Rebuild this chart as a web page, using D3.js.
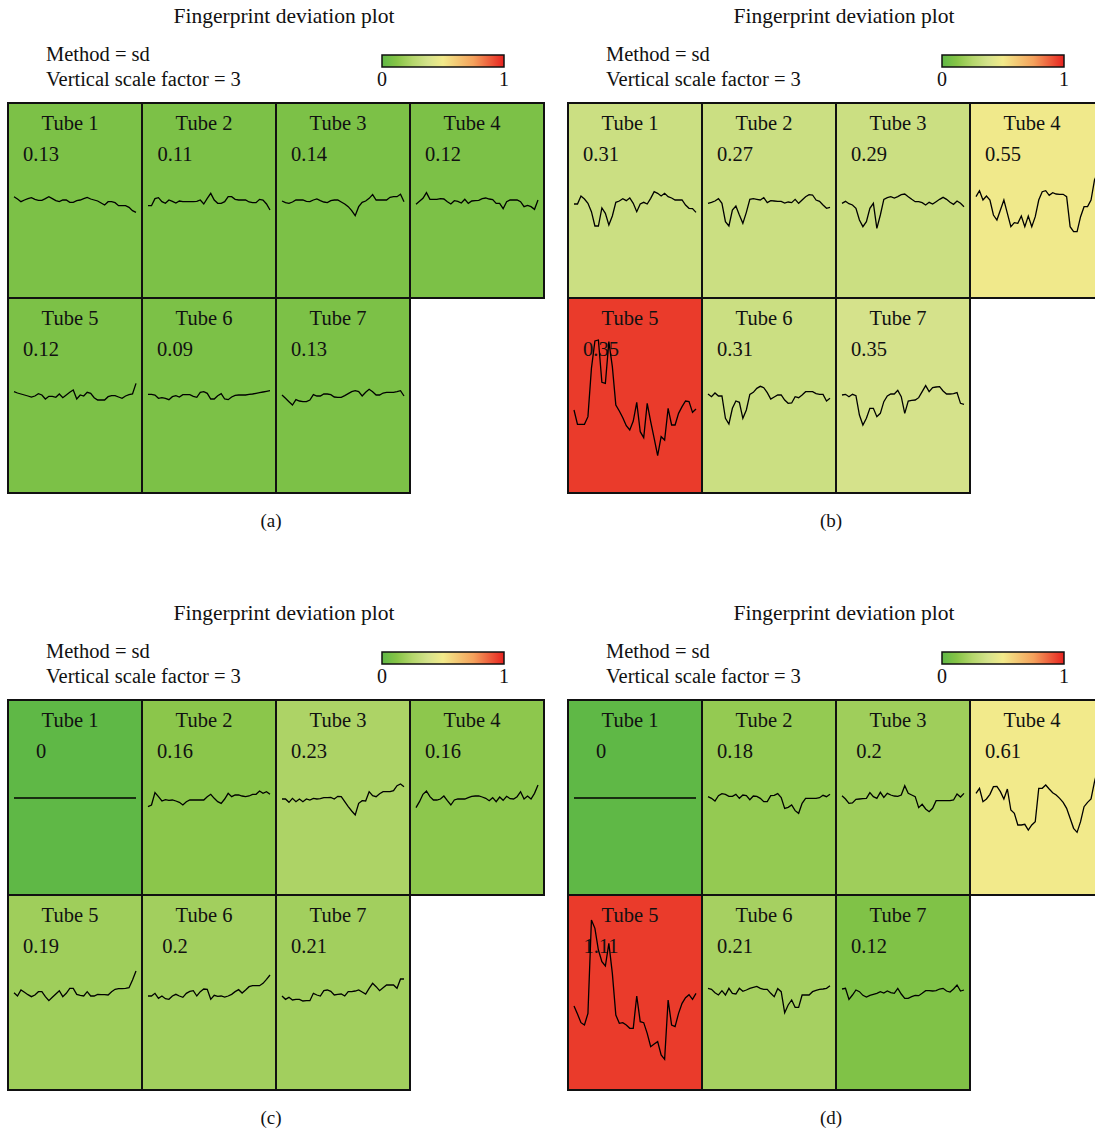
<!DOCTYPE html>
<html>
<head>
<meta charset="utf-8">
<script src="https://cdn.jsdelivr.net/npm/d3@7"></script>
<style>
  html, body { margin: 0; padding: 0; background: #ffffff; }
  svg { display: block; }
  text { font-family: "Liberation Serif", "DejaVu Serif", serif; fill: #111; }
</style>
</head>
<body>
<script>
// ---- data ---------------------------------------------------------------
const tubeNames = ["Tube 1", "Tube 2", "Tube 3", "Tube 4", "Tube 5", "Tube 6", "Tube 7"];
const panelLabels = ["(a)", "(b)", "(c)", "(d)"];
const methodName = "sd";
const verticalScaleFactor = 3;
const colourTicks = [0, 1];

// printed deviation per tube
const sdA = [0.13, 0.11, 0.14, 0.12, 0.12, 0.09, 0.13];
const sdB = [0.31, 0.27, 0.29, 0.55, 0.35, 0.31, 0.35];
const sdC = [0, 0.16, 0.23, 0.16, 0.19, 0.2, 0.21];
const sdD = [0, 0.18, 0.2, 0.61, 1.11, 0.21, 0.12];

// position of each tube on the 0..1 colour scale
const levelA = [0.09, 0.09, 0.09, 0.09, 0.09, 0.09, 0.09];
const levelB = [0.34, 0.34, 0.34, 0.49, 0.95, 0.34, 0.38];
const levelC = [0, 0.135, 0.23, 0.14, 0.19, 0.2, 0.2];
const levelD = [0, 0.16, 0.19, 0.5, 0.95, 0.21, 0.1];

// fingerprint deviation traces (one series per tube)
const traceA = [
  [1.3,0.6,-0.2,0.3,0.7,1.0,0.5,0.2,0.2,0.7,1.3,0.7,0.1,-0.2,0.3,0.3,-0.4,-0.4,0.1,0.3,0.7,1.1,0.6,0.3,0,-0.6,-1.2,-0.2,-0.2,-0.5,-1.4,-1.4,-1.4,-1.9,-2.9,-3.4],
  [-1.4,-1.4,0.7,1.0,-0.2,-0.7,0.3,-0.1,-0.6,0,-0.2,-0.2,-0.2,-0.2,-0.1,0.3,-0.9,0.8,2.3,0.3,-0.7,-0.7,-0.2,1.3,1.3,0.5,0.3,0.3,0.3,-0.3,-0.5,-0.5,0.5,0.3,-0.9,-2.7],
  [0,-0.5,-0.7,-0.3,0.3,0.3,0.3,-0.1,-0.2,0.3,0.6,0.1,-0.3,-0.5,0.1,0.3,0.3,-0.3,-0.9,-1.7,-2.9,-4.4,-1.7,-0.4,0,0.8,1.9,0.3,0.3,0.3,0.3,1.1,1.3,1.3,2.0,-0.2],
  [-1.0,-0.1,0.8,2.5,0.5,0.5,0.5,0.7,0.6,-0.2,-0.9,0.1,-0.1,-0.6,0.5,-0.7,0,0.1,0.2,0.7,0.9,0.6,0.4,-0.7,-0.7,-2.3,-0.2,0.3,0.3,0.3,-0.2,-1.7,-1.3,-1.7,-2.5,0.3],
  [1.3,0.9,0.6,0.3,0,-0.3,0,0.7,0.3,-0.9,-0.1,-0.1,-0.4,0.6,-0.5,0.3,1.1,1.8,-0.9,0.3,0,1.1,0.8,-0.5,-1.2,-1.2,-1.2,-0.2,0.1,0.1,-0.3,-0.7,0,0.4,0.6,3.8],
  [0.5,0.5,0.3,-0.7,-0.5,-0.7,-1.1,-0.2,0.1,-0.3,0.4,0.4,0.4,-0.1,-0.4,1.1,1.3,0.8,-0.9,-0.9,0.1,0.7,-0.9,-1.1,-0.3,0.2,0.3,0.3,0.3,0.5,0.6,0.8,1.0,1.2,1.4,1.6],
  [0.3,-0.7,-1.7,-2.7,-1.1,-1.5,-1.7,-1.7,-1.2,0.4,0,0,0.6,0.6,0.4,-0.3,-0.4,-0.4,0.1,0.7,1.3,1.6,1.3,0,1.1,2.0,1.3,0.3,0.3,0.9,1.1,1.1,1.1,1.3,1.6,0]
];
const traceB = [
  [-0.9,-0.9,1.5,0.6,-0.7,-3.2,-7.5,-7.5,-2.1,-3.7,-7.2,-4.5,-0.4,0,0.7,0.1,0.9,-0.7,-3.2,-0.9,-0.4,-0.9,0.8,2.8,2.3,1.5,2.3,1.3,0.9,0.3,0.3,0.3,-1.2,-2.2,-2.3,-3.4],
  [-0.7,-0.4,0,0.7,-0.7,-6.2,-7.5,-2.7,-1.5,-4.2,-6.7,-3.4,0.5,0.7,0.5,0.3,1.0,-0.5,0.1,0,-0.1,-0.1,-0.6,-0.3,-0.5,0.5,-0.7,0.3,1.3,1.9,1.8,0.3,-0.1,-1.2,-2.2,-1.9],
  [-0.7,-0.1,-0.8,-1.2,-2.2,-5.7,-7.7,-6.2,-2.2,-0.7,-8.2,-4.2,0.5,1.0,1.3,0.9,1.3,1.9,2.1,1.3,0.5,-0.2,-0.2,-0.5,-1.2,-0.4,-0.9,-0.2,0.5,1.1,0.5,-0.4,-1.0,0,-0.7,-1.7],
  [1.3,3.1,0.3,1.5,0.3,-4.2,-5.7,-2.7,0.3,-3.7,-7.7,-6.5,-6.7,-4.5,-7.7,-4.5,-7.7,-4.7,0.3,2.8,3.1,1.7,2.5,2.1,2.0,2.0,1.3,-7.7,-9.2,-9.2,-4.7,-1.7,-1.7,0.3,6.3,8.8],
  [-4.2,-8.5,-8.5,-8.5,-6.2,8.3,16.5,16.8,4.1,3.8,16.3,8.8,-2.7,-4.5,-6.5,-8.9,-10.2,-7.5,-1.9,-10.7,-12.5,-2.2,-7.7,-12.7,-17.9,-12.2,-13.2,-3.7,-8.7,-8.7,-5.2,-3.2,-1.5,-1.7,-4.9,-3.9],
  [0.6,-0.2,0.9,0,0,-6.7,-8.4,-3.7,-1.5,-1.9,-6.7,-4.2,0.5,1.1,2.3,2.9,2.5,1.0,-0.9,-0.3,0.3,0.3,-1.2,-2.2,-2.1,-0.2,-0.5,0.3,1.3,1.3,1.3,0.7,0.5,0.5,-1.5,-0.7],
  [0.3,0.5,-0.2,0.5,0.1,-5.7,-8.7,-6.7,-3.7,-3.7,-6.2,-5.2,-1.7,0,0.6,0.6,1.7,-0.2,-5.2,-1.5,-1.3,-1.2,-0.5,1.3,3.1,1.3,2.5,2.7,2.8,1.5,0.6,0.6,0.7,1.0,-2.2,-2.5]
];
const traceC = [
  [0,0,0,0,0,0,0,0,0,0,0,0,0,0,0,0,0,0,0,0,0,0,0,0,0,0,0,0,0,0,0,0,0,0,0,0],
  [-2.6,-2.1,1.6,0.4,-0.9,-0.5,-0.7,-0.6,-0.9,-1.3,-2.1,-1.1,-0.6,-0.6,-0.6,-0.6,-0.6,0.4,1.1,-0.1,-1.1,-1.6,-0.3,1.4,0.4,0.9,0.9,0.6,0.4,0.6,1.1,1.1,2.1,1.4,1.9,1.1],
  [-0.3,-0.3,-1.3,-0.1,-1.1,-0.3,-1.1,-0.3,-0.6,-0.1,-0.3,-0.2,0.1,0.1,0.2,-0.3,0.5,0.4,-1.1,-2.6,-3.9,-5.1,-1.6,-0.8,-0.9,1.9,0.7,0.4,1.3,1.9,1.9,1.9,2.2,3.7,4.2,3.4],
  [-2.9,-1.1,1.1,2.1,0.4,-0.6,-0.6,-0.3,0.6,-0.8,-2.1,-0.6,-0.3,-0.3,-0.3,0.1,0.5,0.6,0.6,0.3,-0.1,-0.8,0.1,-1.1,0.3,-0.7,0.5,-0.2,-0.3,0.4,1.9,-0.3,0.6,-0.3,1.4,3.9],
  [0.1,-0.9,0.9,0.2,-0.5,-1.1,-0.6,0.4,0.4,-1.1,-2.3,-1.3,-0.3,0.7,-1.1,-0.1,1.4,1.4,-0.4,-0.7,-0.9,0.4,-0.9,-0.9,-0.4,-0.5,-0.5,-0.6,0.4,1.1,1.3,1.3,1.4,1.6,3.9,6.6],
  [-0.9,-0.9,-0.1,-1.6,-0.9,-1.7,-1.9,-0.9,-0.4,-0.9,-1.3,-0.1,0.5,0.7,-0.9,0.4,1.2,1.1,-1.9,-0.7,-1.0,-0.9,-1.2,-0.9,-0.4,0.4,1.0,0,0.9,1.9,2.2,2.2,2.2,2.9,4.1,5.4],
  [-0.9,-1.9,-1.3,-2.1,-1.9,-1.9,-2.4,-2.3,-2.3,-0.1,-0.6,-0.9,0.7,0.9,0.5,-0.6,-0.4,-0.3,-0.9,0.4,0.4,0.6,0.9,0.3,-0.3,1.4,2.9,1.9,0.7,1.6,2.4,2.4,2.4,1.4,4.2,4.2]
];
const traceD = [
  [0,0,0,0,0,0,0,0,0,0,0,0,0,0,0,0,0,0,0,0,0,0,0,0,0,0,0,0,0,0,0,0,0,0,0,0],
  [0.4,-0.1,-0.9,0.7,1.3,1.1,0.5,0.5,1.1,-0.1,0.9,0.7,-0.5,0.6,0.5,-0.1,-1.1,-1.1,0.7,0.8,1.3,0.1,-3.1,-2.8,-2.1,-3.8,-4.6,-1.6,-0.1,-0.1,-0.1,-0.1,0.1,0.8,0.4,1.1],
  [0.7,-0.3,-1.6,-1.5,-0.4,-0.3,-0.2,-0.1,1.6,0.4,-0.1,1.7,0.2,1.4,0.9,0.6,0.5,0.9,3.7,1.4,0.9,0.4,-2.9,-1.9,-3.3,-4.1,-3.1,-0.8,-0.8,-0.8,-0.8,-0.8,-0.6,1.2,0.3,1.4],
  [1.4,2.9,-1.1,-0.3,1.1,3.4,3.5,1.9,-0.3,2.7,-3.6,-4.6,-8.1,-8.1,-7.9,-9.6,-8.1,-7.1,2.9,2.9,3.9,2.7,1.6,0.9,-0.1,-1.3,-3.1,-6.1,-9.1,-10.3,-7.1,-2.6,-1.3,-0.3,4.9,8.9],
  [-3.9,-6.3,-8.9,-9.6,-6.1,21.9,19.4,12.9,9.4,8.1,14.9,5.9,-6.6,-9.1,-8.9,-9.6,-10.6,-10.6,-0.9,-8.6,-8.9,-12.1,-16.1,-15.3,-14.6,-18.6,-19.9,-2.1,-9.6,-10.1,-6.1,-3.1,-1.4,-0.5,-1.9,-0.1],
  [1.4,1.1,0.1,-0.6,0.7,-0.6,1.4,-0.1,-0.3,1.4,0.5,0.9,1.4,1.7,2.0,1.4,1.1,1.1,-0.1,-1.1,1.3,0.4,-5.9,-3.6,-2.1,-4.3,-4.3,-0.6,-0.6,-0.6,0.4,0.8,1.1,1.2,1.4,2.2],
  [1.2,1.4,-1.9,-0.6,0.9,0.4,-0.7,-1.2,-0.7,-0.4,-0.1,0.4,0,0.6,0.1,-0.1,1.4,-0.3,-1.6,-1.6,-1.1,-0.7,-0.8,-0.1,0.7,0.7,0.6,0.7,1.2,1.4,0.6,0.3,1.2,2.4,0.6,0.9]
];

const panels = [
  { label: panelLabels[0], sd: sdA, level: levelA, trace: traceA, left: 8,   top: 103 },
  { label: panelLabels[1], sd: sdB, level: levelB, trace: traceB, left: 568, top: 103 },
  { label: panelLabels[2], sd: sdC, level: levelC, trace: traceC, left: 8,   top: 700 },
  { label: panelLabels[3], sd: sdD, level: levelD, trace: traceD, left: 568, top: 700 }
];

// ---- layout & scales ------------------------------------------------------
const W = 1095, H = 1129;
const cellW = 134, cellH = 195;
const nCols = 4;

const colourStops = [
  [0.0,   "#5fb846"],
  [0.12,  "#86c447"],
  [0.25,  "#b4d66c"],
  [0.375, "#d4e28b"],
  [0.5,   "#f2ea8b"],
  [0.75,  "#f4a15c"],
  [1.0,   "#e8221f"]
];
const colour = d3.scaleLinear()
  .domain(colourStops.map(d => d[0]))
  .range(colourStops.map(d => d[1]))
  .interpolate(d3.interpolateRgb)
  .clamp(true);

// deviation -> vertical offset from the trace baseline
const devY = d3.scaleLinear().domain([-30, 30]).range([100, -100]);

const svg = d3.select("body").append("svg")
  .attr("width", W).attr("height", H)
  .attr("viewBox", `0 0 ${W} ${H}`);

const defs = svg.append("defs");
const grad = defs.append("linearGradient").attr("id", "devGradient")
  .attr("x1", "0%").attr("x2", "100%").attr("y1", "0%").attr("y2", "0%");
grad.selectAll("stop").data(colourStops).join("stop")
  .attr("offset", d => (d[0] * 100) + "%")
  .attr("stop-color", d => d[1]);

panels.forEach(p => {
  const g = svg.append("g");
  const x = d3.scaleBand().domain(d3.range(nCols)).range([p.left, p.left + nCols * cellW]).padding(0);
  const y = d3.scaleBand().domain([0, 1]).range([p.top, p.top + 2 * cellH]).padding(0);

  // header
  g.append("text")
    .attr("x", p.left + 276).attr("y", p.top - 80)
    .attr("text-anchor", "middle")
    .style("font-size", "21.5px")
    .text("Fingerprint deviation plot");
  g.append("text")
    .attr("x", p.left + 38).attr("y", p.top - 42)
    .style("font-size", "20.5px")
    .text(`Method = ${methodName}`);
  g.append("text")
    .attr("x", p.left + 38).attr("y", p.top - 17)
    .style("font-size", "20.5px")
    .text(`Vertical scale factor = ${verticalScaleFactor}`);

  // colour key
  const keyX = d3.scaleLinear().domain([0, 1]).range([p.left + 374, p.left + 496]);
  g.append("rect")
    .attr("x", keyX(0)).attr("y", p.top - 48)
    .attr("width", keyX(1) - keyX(0)).attr("height", 12)
    .attr("fill", "url(#devGradient)")
    .attr("stroke", "#111").attr("stroke-width", 1.5);
  g.selectAll(".keytick").data(colourTicks).join("text")
    .attr("class", "keytick")
    .attr("x", d => keyX(d)).attr("y", p.top - 17)
    .attr("text-anchor", "middle")
    .style("font-size", "20px")
    .text(d => d);

  // tube cells
  const cells = g.selectAll(".cell").data(tubeNames.map((name, i) => ({
    name, i, sd: p.sd[i], level: p.level[i], trace: p.trace[i],
    cx: x(i % nCols), cy: y(Math.floor(i / nCols))
  }))).join("g").attr("class", "cell");

  cells.append("rect")
    .attr("x", d => d.cx).attr("y", d => d.cy)
    .attr("width", cellW).attr("height", cellH)
    .attr("fill", d => colour(d.level))
    .attr("stroke", "#111").attr("stroke-width", 2);

  cells.append("text")
    .attr("x", d => d.cx + cellW / 2 - 5).attr("y", d => d.cy + 27)
    .attr("text-anchor", "middle")
    .style("font-size", "20.5px")
    .text(d => d.name);

  cells.append("text")
    .attr("x", d => d.cx + 33).attr("y", d => d.cy + 58)
    .attr("text-anchor", "middle")
    .style("font-size", "20.5px")
    .text(d => String(d.sd));

  cells.append("path")
    .attr("fill", "none")
    .attr("stroke", "#000")
    .attr("stroke-width", 1.3)
    .attr("stroke-linejoin", "miter")
    .attr("d", d => {
      const tx = d3.scaleLinear().domain([0, d.trace.length - 1]).range([d.cx + 6, d.cx + 128]);
      const base = d.cy + 98;
      return d3.line().x((v, k) => tx(k)).y(v => base + devY(v))(d.trace);
    });

  // caption
  g.append("text")
    .attr("x", p.left + 263).attr("y", p.top + 2 * cellH + 34)
    .attr("text-anchor", "middle")
    .style("font-size", "19px")
    .text(p.label);
});
</script>
</body>
</html>
